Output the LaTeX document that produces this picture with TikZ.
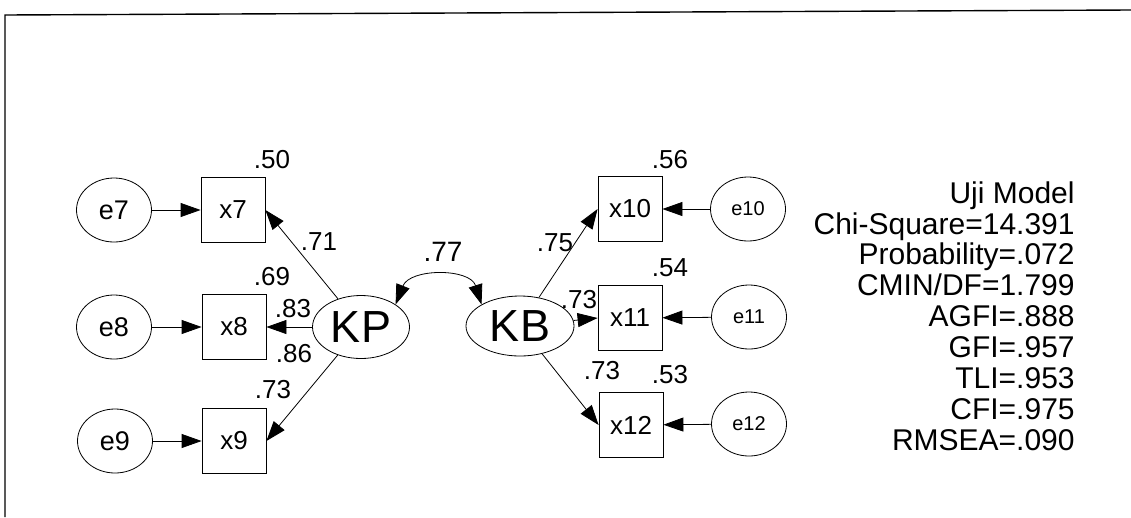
\documentclass[tikz,border=0pt]{standalone}
\usepackage{fontspec}
\setmainfont{Liberation Sans}
\usetikzlibrary{arrows.meta, shapes.geometric}

\begin{document}
\begin{tikzpicture}[x=1pt,y=-1pt,line width=0.8pt,>={Triangle[length=20pt,width=14pt]},
  obs/.style={draw,rectangle,minimum width=64pt,minimum height=65pt,inner sep=0pt,font=\fontsize{26}{30}\selectfont},
  err/.style={draw,ellipse,minimum width=75pt,minimum height=64pt,inner sep=0pt,font=\fontsize{27}{30}\selectfont},
  errs/.style={err,font=\fontsize{20}{24}\selectfont},
  lat/.style={draw,ellipse,minimum width=97pt,minimum height=63pt,inner sep=0pt,font=\fontsize{45}{50}\selectfont},
  coef/.style={inner sep=0pt,font=\fontsize{26}{30}\selectfont}]
  \useasboundingbox (0,0) rectangle (1131,517);
  \draw[line width=1.4pt] (5,517) -- (5,15) -- (1131,10);
  % KP side
  \node[err](e7) at (114,210){e7};
  \node[err](e8) at (114,327){e8};
  \node[err](e9) at (115,441){e9};
  \node[obs](x7) at (233,210){x7};
  \node[obs](x8) at (234,327){x8};
  \node[obs](x9) at (234,441){x9};
  \node[lat](KP) at (361,327){KP};
  % KB side
  \node[lat,minimum width=108pt,minimum height=60pt](KB) at (520,326){KB};
  \node[obs](x10) at (630,209){x10};
  \node[obs](x11) at (630,318){x11};
  \node[obs](x12) at (631,425){x12};
  \node[errs](e10) at (748,209){e10};
  \node[errs](e11) at (749,317){e11};
  \node[errs](e12) at (749,424){e12};
  % paths
  \foreach \i in {7,8,9}{\draw[->](e\i)--(x\i);\draw[->](KP)--(x\i.east);}
  \foreach \i in {10,11,12}{\draw[->](e\i)--(x\i);\draw[->](KB)--(x\i.west);}
  \draw[<->](KP.north east) .. controls (410,268) and (470,268) .. (KB.north west);
  % estimates
  \node[coef](r7) at (272,160){.50};
  \node[coef](r8) at (272,277){.69};
  \node[coef](r9) at (273,390){.73};
  \node[coef](l7) at (319,242){.71};
  \node[coef](l8) at (293,309){.83};
  \node[coef](l9) at (294,354){.86};
  \node[coef,font=\fontsize{28}{32}\selectfont](cov) at (443,252){.77};
  \node[coef](l10) at (555,243){.75};
  \node[coef](l11) at (579,300){.73};
  \node[coef](l12) at (602,371){.73};
  \node[coef](r10) at (670,160){.56};
  \node[coef](r11) at (670,268){.54};
  \node[coef](r12) at (670,375){.53};
  % fit
  \node[anchor=north east,align=right,inner sep=0pt,font=\fontsize{30}{30.9}\selectfont](fit) at (1075,181)
    {Uji Model\\Chi-Square=14.391\\Probability=.072\\CMIN/DF=1.799\\AGFI=.888\\GFI=.957\\TLI=.953\\CFI=.975\\RMSEA=.090};
\end{tikzpicture}
\end{document}
